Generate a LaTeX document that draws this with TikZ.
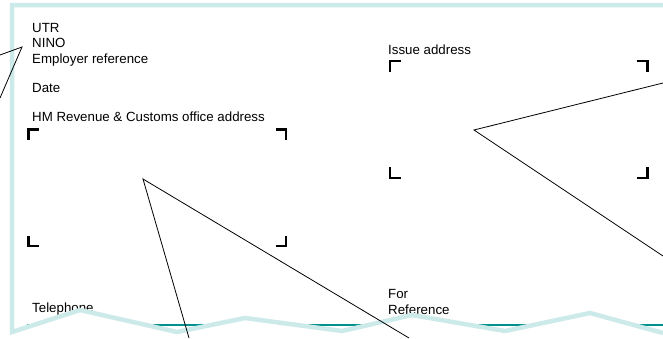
\documentclass[tikz,border=0pt]{standalone}
\usepackage{fontspec}
\setmainfont{Liberation Sans}
\definecolor{frame}{HTML}{CDEAEA}
\definecolor{teal2}{HTML}{00918C}
\begin{document}
\begin{tikzpicture}[x=1pt,y=-1pt,
  lbl/.style={anchor=base west,inner sep=0pt,font=\fontsize{13.3}{15.5}\selectfont},
  cornermark/.style={line width=2.3pt,line cap=butt,line join=miter},
  pointer/.style={line width=0.8pt,black},
  framebar/.style={line width=4.5pt,draw=frame,line join=miter}]
\useasboundingbox (0,0) rectangle (663,338);
% teal rule behind the torn edge
\draw[line width=2pt,teal2] (27,325) coordinate (tl) -- (663,325) coordinate (tr);
% texts
\node[lbl] (utr) at (32,32) {UTR};
\node[lbl] (nino) at (32,47.5) {NINO};
\node[lbl] (emp) at (32,63) {Employer reference};
\node[lbl] (date) at (32,92) {Date};
\node[lbl] (hmrc) at (32,121) {HM Revenue \& Customs office address};
\node[lbl] (issue) at (388,54) {Issue address};
\node[lbl] (tel) at (32,312) {Telephone};
\node[lbl] (for) at (388,298) {For};
\node[lbl] (ref) at (388,314.5) {Reference};
% corner marks HM box
\draw[cornermark] (38.5,129.5) -- (28.5,129.5) -- (28.5,139.5);
\draw[cornermark] (276,129.5) -- (286,129.5) -- (286,139.5);
\draw[cornermark] (28.5,236) -- (28.5,246) -- (38.5,246);
\draw[cornermark] (286,236) -- (286,246) -- (276,246);
% corner marks issue box
\draw[cornermark] (401,61) -- (390,61) -- (390,72);
\draw[cornermark] (636.5,61) -- (647.5,61) -- (647.5,72);
\draw[cornermark] (390,167) -- (390,178) -- (401,178);
\draw[cornermark] (647.5,167) -- (647.5,178) -- (636.5,178);
% torn edge: white below
\fill[white] (12,332) -- (80,310) -- (177,332) -- (245,318) -- (342,331) -- (412,315) -- (505,331) -- (590,313) -- (663,333) -- (663,338) -- (0,338) -- (0,332) -- cycle;
% frame
\draw[framebar] (663,5) -- (12,5) -- (12,332) -- (80,310) -- (177,332) -- (245,318) -- (342,331) -- (412,315) -- (505,331) -- (590,313) -- (663,333);
% pointer lines
\coordinate (pa) at (22,47);
\coordinate (pa1) at (0,55);
\coordinate (pa2) at (0,98);
\coordinate (pb) at (143,179);
\coordinate (pb1) at (189,338);
\coordinate (pb2) at (409,338);
\coordinate (pc) at (474,130);
\coordinate (pc1) at (663,83);
\coordinate (pc2) at (663,256);
\draw[pointer] (pa1) -- (pa) -- (pa2);
\draw[pointer] (pb1) -- (pb) -- (pb2);
\draw[pointer] (pc1) -- (pc) -- (pc2);
\end{tikzpicture}
\end{document}
